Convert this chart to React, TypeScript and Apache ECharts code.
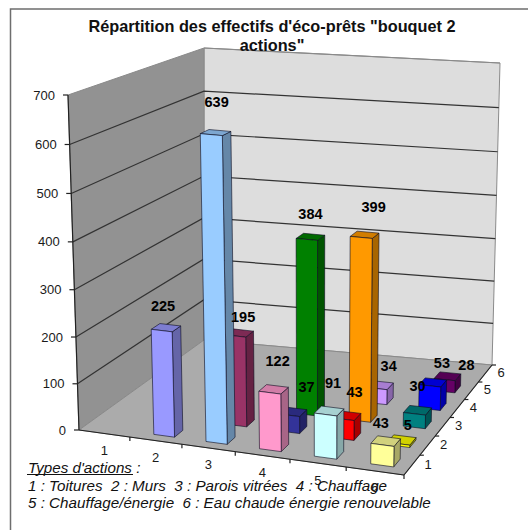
import React, { useEffect, useRef } from "react";
import * as echarts from "echarts";

const W = 528;
const H = 530;
const FONT = '"Liberation Sans", Arial, sans-serif';

const titleText = 'Répartition des effectifs d\'éco-prêts "bouquet 2\nactions"';
const noteLines = [
  "Types d'actions :",
  "1 : Toitures  2 : Murs  3 : Parois vitrées  4 : Chauffage",
  "5 : Chauffage/énergie  6 : Eau chaude énergie renouvelable",
];
const columnLabels = ["1", "2", "3", "4", "5", "6"];
const depthLabels = ["1", "2", "3", "4", "5", "6"];
const yTicks = [0, 100, 200, 300, 400, 500, 600, 700];

// Painter's order: far rows first, then left to right
const barColumns = [6, 5, 6, 4, 5, 6, 3, 4, 5, 6, 2, 3, 4, 5, 6];
const barDepths = [5, 4, 4, 3, 3, 3, 2, 2, 2, 2, 1, 1, 1, 1, 1];
const barValues = [28, 34, 53, 384, 399, 30, 195, 37, 43, 5, 225, 639, 122, 91, 43];
const barColors = [
  "#660066", "#CC99FF", "#0000FF", "#008000", "#FF9900", "#008080", "#993366", "#333399",
  "#FF0000", "#FFFF00", "#9999FF", "#99CCFF", "#FF99CC", "#CCFFFF", "#FFFF99",
];
const labelDx = [19, 9, 9, 0, 9, 0, 4, 14, 8, 6, -3, 1, 4, 4, -5];
const labelDy = [-11, -19, -19, -23, -28, -24, -16, -25, -24, -15, -22, -31, -28, -28, -18];

// Projection corners of the 3D box, floor and top (front-left, front-right, back-right, back-left)
const floorQuad = [[79, 430], [404, 475], [492, 365], [204, 340]];
const topQuad = [[68, 95], [410, 125], [500, 63], [204, 48]];

function homography(q: number[][]) {
  const [[x0, y0], [x1, y1], [x2, y2], [x3, y3]] = q;
  const sx = x0 - x1 + x2 - x3;
  const sy = y0 - y1 + y2 - y3;
  const dx1 = x1 - x2, dx2 = x3 - x2, dy1 = y1 - y2, dy2 = y3 - y2;
  const den = dx1 * dy2 - dx2 * dy1;
  const g = (sx * dy2 - dx2 * sy) / den;
  const h = (dx1 * sy - sx * dy1) / den;
  const a = x1 - x0 + g * x1, b = x3 - x0 + h * x3;
  const d = y1 - y0 + g * y1, e = y3 - y0 + h * y3;
  return (u: number, v: number) => {
    const t = g * u + h * v + 1;
    // Half perspective, half bilinear: matches the reference's tick spacing
    const px = (a * u + b * v + x0) / t;
    const py = (d * u + e * v + y0) / t;
    const fx = x0 + (x1 - x0) * u, fy = y0 + (y1 - y0) * u;
    const bx = x3 + (x2 - x3) * u, by = y3 + (y2 - y3) * u;
    const lx = fx + (bx - fx) * v, ly = fy + (by - fy) * v;
    return [(px + lx) / 2, (py + ly) / 2];
  };
}
const floorMap = homography(floorQuad);
const topMap = homography(topQuad);

// u, w come from the chart's own hidden axes (as fractions of the plot), v from the depth index
function project(u: number, v: number, w: number) {
  const a = floorMap(u, v);
  const b = topMap(u, v);
  const ww = w - 0.04 * w * (1 - w);
  return [a[0] + (b[0] - a[0]) * ww, a[1] + (b[1] - a[1]) * ww];
}
function fractions(api: any, col: number, val: number) {
  const p = api.coord([col, val]);
  return [p[0] / W, 1 - p[1] / H];
}
function shade(hex: string, f: number) {
  const n = parseInt(hex.slice(1), 16);
  const c = [(n >> 16) & 255, (n >> 8) & 255, n & 255].map((x) => Math.round(x * f));
  return `rgb(${c[0]},${c[1]},${c[2]})`;
}
const nDepth = depthLabels.length;

function renderWalls(_p: any, api: any) {
  const [u1] = fractions(api, columnLabels.length, 0);
  const [, w1] = fractions(api, 0, 700);
  const poly = (pts: number[][], fill: string, stroke: string, lw = 1) => ({
    type: "polygon",
    shape: { points: pts },
    style: { fill, stroke, lineWidth: lw },
    silent: true,
  });
  return {
    type: "group",
    children: [
      poly([project(0, 1, 0), project(u1, 1, 0), project(u1, 1, w1), project(0, 1, w1)], "#dddddd", "#8a8a8a"),
      poly([project(0, 0, 0), project(0, 1, 0), project(0, 1, w1), project(0, 0, w1)], "#929292", "#8a8a8a"),
      poly([project(0, 0, 0), project(u1, 0, 0), project(u1, 1, 0), project(0, 1, 0)], "#ababab", "#8a8a8a"),
    ],
  };
}

function renderGrid(_p: any, api: any) {
  const val = api.value(1);
  const [u1, w] = fractions(api, columnLabels.length, val);
  const a = project(0, 0, w);
  const b = project(0, 1, w);
  const c = project(u1, 1, w);
  const children: any[] = [
    {
      type: "line",
      shape: { x1: a[0] - 5, y1: a[1], x2: a[0], y2: a[1] },
      style: { stroke: "#222", lineWidth: 1.2 },
      silent: true,
    },
    {
      type: "text",
      style: {
        x: a[0] - 13, y: a[1], text: String(val), fill: "#1a1a1a",
        font: `13px ${FONT}`, textAlign: "right", textVerticalAlign: "middle",
      },
      silent: true,
    },
  ];
  if (val > 0) {
    const color = val === 700 ? "#8a8a8a" : "#333";
    children.push({
      type: "polyline",
      shape: { points: val === 700 ? [b, c] : [a, b, c] },
      style: { stroke: color, lineWidth: 1.2, fill: "none" },
      silent: true,
    });
  }
  return { type: "group", children };
}

function renderAxes(_p: any, api: any) {
  const [u1] = fractions(api, columnLabels.length, 0);
  const [, w1] = fractions(api, 0, 700);
  const seg = (a: number[], b: number[], lw = 1.2, stroke = "#222") => ({
    type: "line",
    shape: { x1: a[0], y1: a[1], x2: b[0], y2: b[1] },
    style: { stroke, lineWidth: lw },
    silent: true,
  });
  const label = (p: number[], text: string) => ({
    type: "text",
    style: { x: p[0], y: p[1], text, fill: "#1a1a1a", font: `13px ${FONT}`, textAlign: "center", textVerticalAlign: "middle" },
    silent: true,
  });
  const children: any[] = [
    seg(project(0, 0, 0), project(0, 0, w1)),
    seg(project(0, 0, 0), project(u1, 0, 0)),
    seg(project(u1, 0, 0), project(u1, 1, 0)),
  ];
  columnLabels.forEach((t, i) => {
    const tick = project((i + 1) / columnLabels.length, 0, 0);
    children.push(seg(tick, [tick[0], tick[1] + 4]));
    const c = project((i + 0.5) / columnLabels.length, 0, 0);
    children.push(label([c[0], c[1] + 17], t));
  });
  depthLabels.forEach((t, i) => {
    const tick = project(u1, (i + 1) / nDepth, 0);
    children.push(seg(tick, [tick[0] + 4, tick[1]]));
    const c = project(u1, (i + 0.5) / nDepth, 0);
    children.push(label([c[0] + 16, c[1] - 1], t));
  });
  return { type: "group", children };
}

function renderBar(p: any, api: any) {
  const col = api.value(0);
  const depth = api.value(1);
  const val = api.value(2);
  const [u0] = fractions(api, col - 0.66, val);
  const [u1, w] = fractions(api, col - 0.26, val);
  const v0 = (depth - 0.7) / nDepth;
  const v1 = (depth - 0.3) / nDepth;
  const color = barColors[p.dataIndex];
  const face = (pts: number[][], fill: string) => ({
    type: "polygon",
    shape: { points: pts },
    style: { fill, stroke: "rgba(10,10,30,0.75)", lineWidth: 0.8, lineJoin: "round" },
    silent: true,
  });
  return {
    type: "group",
    children: [
      face([project(u1, v0, 0), project(u1, v1, 0), project(u1, v1, w), project(u1, v0, w)], shade(color, 0.66)),
      face([project(u0, v0, w), project(u1, v0, w), project(u1, v1, w), project(u0, v1, w)], shade(color, 0.82)),
      face([project(u0, v0, 0), project(u1, v0, 0), project(u1, v0, w), project(u0, v0, w)], color),
    ],
  };
}

function renderBarLabel(p: any, api: any) {
  const col = api.value(0);
  const depth = api.value(1);
  const val = api.value(2);
  const [u, w] = fractions(api, col - 0.46, val);
  const t = project(u, (depth - 0.5) / nDepth, w);
  return {
    type: "text",
    style: {
      x: t[0] + labelDx[p.dataIndex], y: t[1] + labelDy[p.dataIndex], text: String(val), fill: "#000",
      font: `bold 14.5px ${FONT}`, textAlign: "center", textVerticalAlign: "middle",
    },
    silent: true,
  };
}

export default function App() {
  const ref = useRef<HTMLDivElement>(null);
  useEffect(() => {
    const chart = echarts.init(ref.current!, undefined, { renderer: "svg", width: W, height: H });
    const barData = barValues.map((v, i) => [barColumns[i], barDepths[i], v]);
    const custom = (z: number, data: any[], renderItem: any, encode: any) => ({
      type: "custom", coordinateSystem: "cartesian2d", clip: false, silent: true, z, data, renderItem, encode,
    });
    chart.setOption({
      animation: false,
      backgroundColor: "#ffffff",
      title: {
        text: titleText, left: 267, top: 11, textAlign: "center", z: 20,
        textStyle: { fontFamily: FONT, fontSize: 16.3, fontWeight: "bold", color: "#111", lineHeight: 19 },
      },
      grid: { left: 0, right: 0, top: 0, bottom: 0 },
      xAxis: { type: "value", min: 0, max: 6, interval: 1, show: false },
      yAxis: { type: "value", min: 0, max: 700, interval: 100, show: false },
      graphic: [
        {
          type: "polyline", z: 30, silent: true,
          shape: { points: [[10.5, H], [10.5, 9], [W, 9]] },
          style: { stroke: "#6e6e6e", lineWidth: 1.5, fill: "none" },
        },
        ...noteLines.map((t, i) => ({
          type: "text", z: 30, silent: true, x: 28, y: [467, 485, 502][i],
          style: { text: t, fill: "#111", font: `italic 15.2px ${FONT}`, textVerticalAlign: "middle" },
        })),
        {
          type: "line", z: 30, silent: true,
          shape: { x1: 27, y1: 474.5, x2: 133, y2: 474.5 },
          style: { stroke: "#111", lineWidth: 1 },
        },
      ],
      series: [
        custom(1, [[0, 0]], renderWalls, { x: 0, y: 1 }),
        custom(2, yTicks.map((t) => [0, t]), renderGrid, { x: 0, y: 1 }),
        custom(3, [[0, 0]], renderAxes, { x: 0, y: 1 }),
        custom(4, barData, renderBar, { x: 0, y: 2 }),
        custom(5, barData, renderBarLabel, { x: 0, y: 2 }),
      ],
    });
    return () => chart.dispose();
  }, []);
  return <div ref={ref} style={{ position: "fixed", left: 0, top: 0, width: W, height: H }} />;
}
